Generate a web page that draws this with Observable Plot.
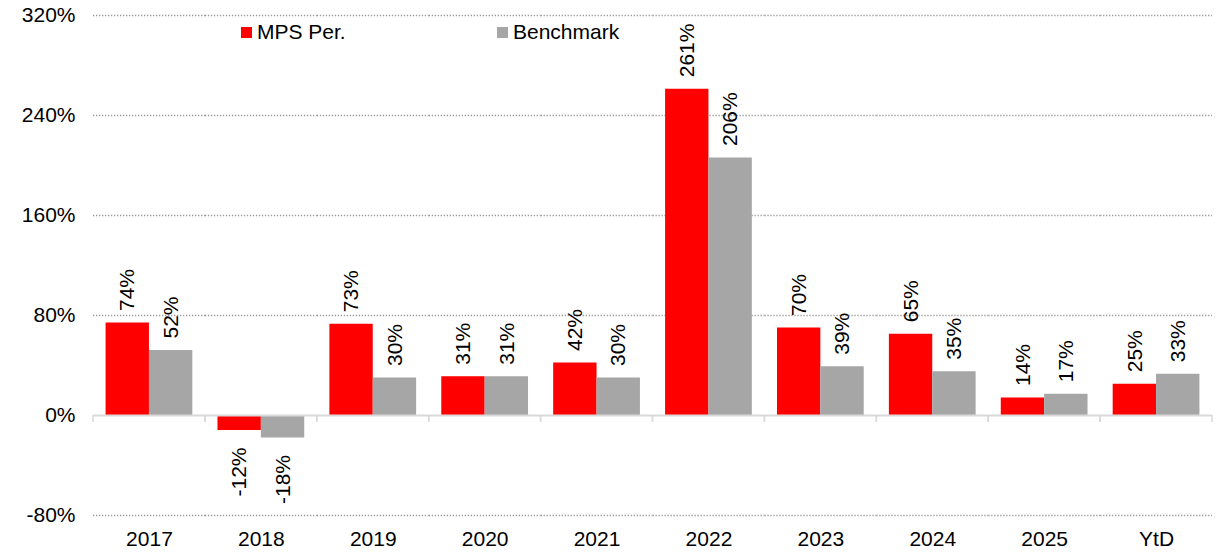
<!DOCTYPE html>
<html>
<head>
<meta charset="utf-8">
<script src="https://cdn.jsdelivr.net/npm/d3@7"></script>
<script src="https://cdn.jsdelivr.net/npm/@observablehq/plot@0.6"></script>
<style>
  body { margin: 0; background: #fff; }
  #wrap { position: relative; width: 1218px; height: 556px; font-family: "Liberation Sans", Arial, sans-serif; }
  .legend { position: absolute; top: 20px; display: flex; align-items: center; font-size: 21px; color: #000; }
  .legend .sw { width: 11px; height: 11px; margin-right: 5px; }
</style>
</head>
<body>
<div id="wrap"></div>
<script>
const categories = ["2017", "2018", "2019", "2020", "2021", "2022", "2023", "2024", "2025", "YtD"];
const series = ["MPS Per.", "Benchmark"];
const mpsValues = [74, -12, 73, 31, 42, 261, 70, 65, 14, 25];
const benchmarkValues = [52, -18, 30, 31, 30, 206, 39, 35, 17, 33];
const yTicks = [-80, 0, 80, 160, 240, 320];
const colors = ["#ff0000", "#a6a6a6"];

const rows = categories.flatMap((c, i) => [
  {cat: c, series: series[0], value: mpsValues[i]},
  {cat: c, series: series[1], value: benchmarkValues[i]}
]);

function boundaryTicks(index, scales, values, dims) {
  const y0 = scales.y(0);
  const g = d3.create("svg:g").attr("stroke", "#d9d9d9").attr("stroke-width", 1.5);
  for (const x of [dims.marginLeft, dims.width - dims.marginRight]) {
    g.append("line").attr("x1", x).attr("x2", x).attr("y1", y0).attr("y2", y0 + 7);
  }
  return g.node();
}

const chart = Plot.plot({
  width: 1218,
  height: 556,
  marginLeft: 93,
  marginRight: 6,
  marginTop: 15,
  marginBottom: 41,
  style: {fontFamily: "'Liberation Sans', Arial, sans-serif", fontSize: "21px", color: "#000", background: "#fff", overflow: "visible"},
  fx: {domain: categories, padding: 0, round: false, label: null},
  x: {domain: series, paddingInner: 0, paddingOuter: 0.29, round: false, axis: null},
  y: {domain: [-80, 320], label: null},
  color: {domain: series, range: colors},
  marks: [
    Plot.ruleY(yTicks.filter(d => d !== 0), {stroke: "#9a9a9a", strokeWidth: 1.3, strokeDasharray: "1.3,1.7"}),
    Plot.barY(rows, {fx: "cat", x: "series", y: "value", fill: "series"}),
    Plot.ruleY([0], {stroke: "#d9d9d9", strokeWidth: 2}),
    boundaryTicks,
    Plot.text(rows.filter(d => d.value >= 0), {fx: "cat", x: "series", y: "value", text: d => d.value + "%", rotate: -90, textAnchor: "start", dy: -12, fill: "#000", fontSize: 21}),
    Plot.text(rows.filter(d => d.value < 0), {fx: "cat", x: "series", y: "value", text: d => d.value + "%", rotate: -90, textAnchor: "end", dy: 17, fill: "#000", fontSize: 21}),
    Plot.axisY({ticks: yTicks, tickFormat: d => d + "%", tickSize: 0, tickPadding: 18, label: null, fontSize: 21}),
    Plot.axisFx({anchor: "bottom", tickSize: 0, tickPadding: 16, label: null, fontSize: 21})
  ]
});

const wrap = document.getElementById("wrap");
wrap.appendChild(chart);
series.forEach((s, i) => {
  const item = document.createElement("div");
  item.className = "legend";
  item.style.left = (i === 0 ? 241 : 497) + "px";
  item.innerHTML = `<div class="sw" style="background:${colors[i]}"></div><span>${s}</span>`;
  wrap.appendChild(item);
});
</script>
</body>
</html>
